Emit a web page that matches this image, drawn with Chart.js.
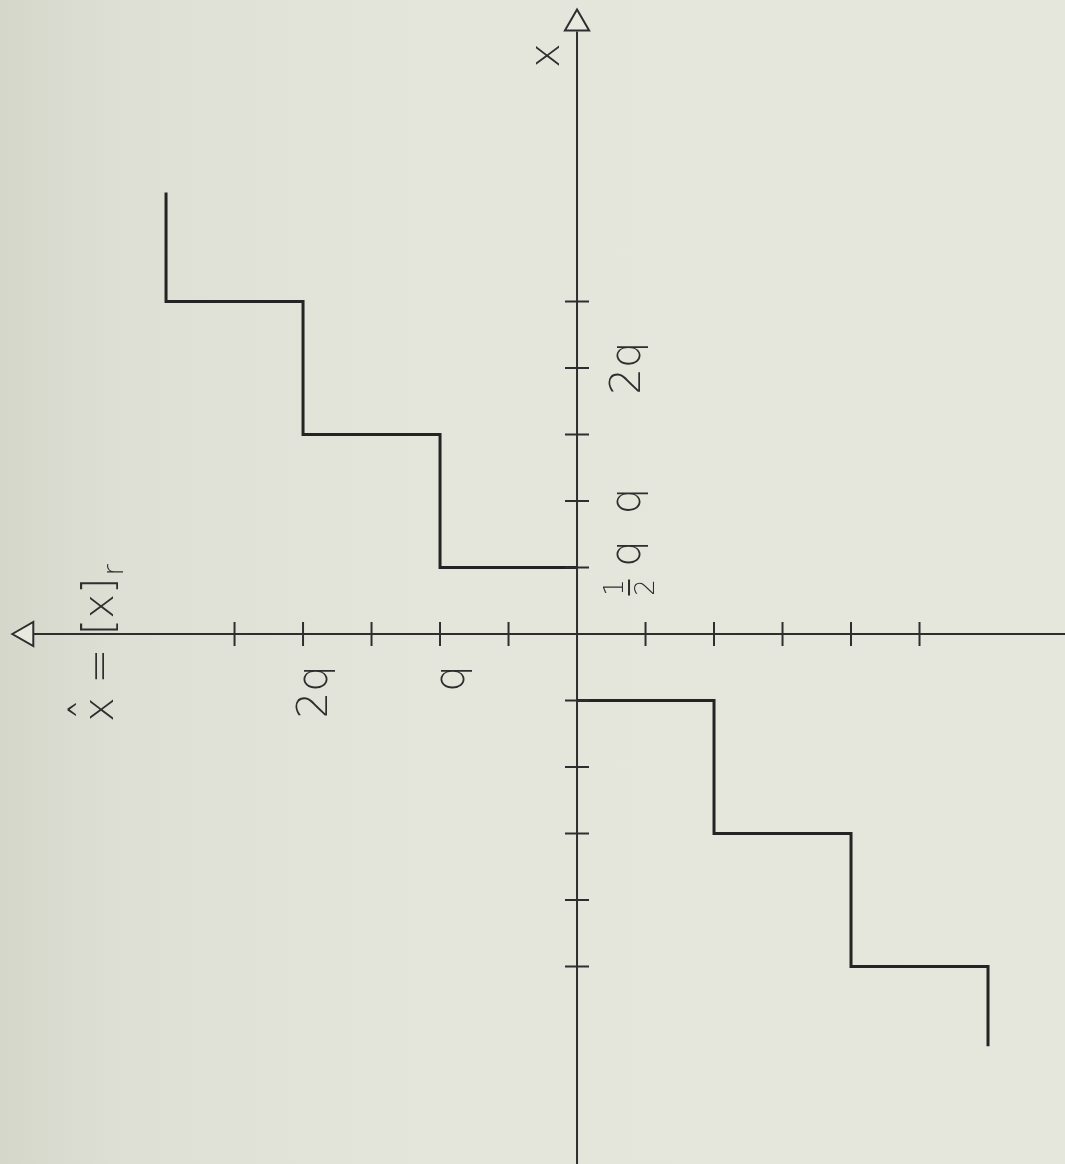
<!DOCTYPE html>
<html>
<head>
<meta charset="utf-8">
<title>Quantizer characteristic</title>
<script src="https://cdn.jsdelivr.net/npm/chart.js@4"></script>
<style>
    html, body {
        margin: 0;
        padding: 0;
        width: 1065px;
        height: 1164px;
        overflow: hidden;
        background: linear-gradient(to right, #d5d7cb 0%, #dfe0d5 12%, #e5e6db 40%, #e6e7dc 100%);
    }
    #quantChart {
        display: block;
    }
</style>
</head>
<body>
<canvas id="quantChart" width="1065" height="1164"></canvas>
<script>
// Quantizer levels (x^ in units of q) and the input thresholds where they switch
const posLevels = [1, 2, 3];
const posThresholds = [0.5, 1.5, 2.5];
const posEnd = 3.32;
const negLevels = [-1, -2, -3];
const negThresholds = [-0.5, -1.5, -2.5];
const negEnd = -3.1;

// Tick marks along each axis, in units of q
const inputTicks = [-2.5, -2, -1.5, -1, -0.5, 0.5, 1, 1.5, 2, 2.5];
const outputTicks = [-2.5, -2, -1.5, -1, -0.5, 0.5, 1, 1.5, 2, 2.5];

// Tick labels
const inputTickLabels = [
    { value: 0.5, text: 'half' },
    { value: 1, text: 'q' },
    { value: 2, text: '2q' },
];
const outputTickLabels = [
    { value: 1, text: 'q' },
    { value: 2, text: '2q' },
];

// Axis extents (output axis runs to the left, input axis upward)
const outputAxisEnd = 3.97;
const outputArrow = 4.02;
const inputAxisEnd = 4.53;
const inputArrow = 4.59;

const INK = '#2e2e2e';
const FONT = '200 42px "DejaVu Sans", sans-serif';

// build the staircase: each step is a jump at the threshold followed by a flat run
function staircase(levels, thresholds, end) {
    const pts = [{ x: 0, y: thresholds[0] }];
    levels.forEach((level, i) => {
        pts.push({ x: level, y: thresholds[i] });
        const next = i + 1 < thresholds.length ? thresholds[i + 1] : end;
        pts.push({ x: level, y: next });
    });
    return pts;
}

const axisLabels = {
    id: 'axisLabels',
    afterDatasetsDraw(chart) {
        const ctx = chart.ctx;
        const xs = chart.scales.x;
        const ys = chart.scales.y;
        const x0 = xs.getPixelForValue(0);
        const y0 = ys.getPixelForValue(0);

        ctx.save();
        ctx.fillStyle = INK;
        ctx.font = FONT;

        const rotated = (px, py, draw) => {
            ctx.save();
            ctx.translate(px, py);
            ctx.rotate(-Math.PI / 2);
            draw();
            ctx.restore();
        };

        // labels right of the input axis
        inputTickLabels.forEach(lbl => {
            const py = ys.getPixelForValue(lbl.value);
            rotated(x0 + 63, py, () => {
                ctx.textBaseline = 'alphabetic';
                ctx.textAlign = 'center';
                if (lbl.text === 'half') {
                    // stacked one-half in front of q
                    ctx.font = '200 26px "DejaVu Sans", sans-serif';
                    ctx.fillText('1', -20, -17);
                    ctx.fillText('2', -20, 14);
                    ctx.fillRect(-28, -12, 16, 2);
                    ctx.font = FONT;
                    ctx.fillText('q', 14, 0);
                } else {
                    ctx.fillText(lbl.text, 0, 0);
                }
            });
        });

        // labels below the output axis
        outputTickLabels.forEach(lbl => {
            const px = xs.getPixelForValue(lbl.value);
            rotated(px + 24, y0 + 31, () => {
                ctx.textAlign = 'right';
                ctx.textBaseline = 'alphabetic';
                ctx.fillText(lbl.text, 0, 0);
            });
        });

        // axis names
        rotated(x0 - 18, ys.getPixelForValue(4.35), () => {
            ctx.textAlign = 'center';
            ctx.fillText('x', 0, 0);
        });

        rotated(113, y0 + 88, () => {
            ctx.textAlign = 'left';
            ctx.textBaseline = 'alphabetic';
            const head = 'x';
            ctx.fillText(head, 0, 0);
            const w = ctx.measureText(head).width;
            ctx.font = '200 46px "DejaVu Sans", sans-serif';
            ctx.textAlign = 'center';
            ctx.fillText('\u02C6', w / 2, -8);
            ctx.font = FONT;
            ctx.textAlign = 'left';
            const rest = ' = [x]';
            ctx.fillText(rest, w, 0);
            const w2 = ctx.measureText(rest).width;
            ctx.font = '200 28px "DejaVu Sans", sans-serif';
            ctx.fillText('r', w + w2 + 2, 10);
        });

        ctx.restore();
    }
};

const upper = staircase(posLevels, posThresholds, posEnd);
const lower = staircase(negLevels, negThresholds, negEnd);

new Chart(document.getElementById('quantChart'), {
    type: 'scatter',
    data: {
        datasets: [
            {
                label: 'output axis',
                data: [{ x: outputAxisEnd, y: 0 }, { x: -4, y: 0 }],
                showLine: true,
                borderColor: INK,
                borderWidth: 2,
                pointRadius: 0,
            },
            {
                label: 'input axis',
                data: [{ x: 0, y: -4.2 }, { x: 0, y: inputAxisEnd }],
                showLine: true,
                borderColor: INK,
                borderWidth: 2,
                pointRadius: 0,
            },
            {
                label: 'input ticks',
                data: inputTicks.map(v => ({ x: 0, y: v })),
                showLine: false,
                pointStyle: 'line',
                pointRadius: 12,
                borderColor: INK,
                borderWidth: 2,
            },
            {
                label: 'output ticks',
                data: outputTicks.map(v => ({ x: v, y: 0 })),
                showLine: false,
                pointStyle: 'line',
                pointRotation: 90,
                pointRadius: 12,
                borderColor: INK,
                borderWidth: 2,
            },
            {
                label: 'arrows',
                data: [{ x: 0, y: inputArrow }, { x: outputArrow, y: 0 }],
                showLine: false,
                pointStyle: 'triangle',
                pointRotation: [0, -90],
                pointRadius: 14,
                borderColor: INK,
                borderWidth: 2,
                backgroundColor: '#e8e9df',
            },
            {
                label: 'positive steps',
                data: upper,
                showLine: true,
                borderColor: '#242424',
                borderWidth: 3,
                pointRadius: 0,
            },
            {
                label: 'negative steps',
                data: lower,
                showLine: true,
                borderColor: '#242424',
                borderWidth: 3,
                pointRadius: 0,
            },
        ],
    },
    options: {
        responsive: false,
        animation: false,
        events: [],
        layout: { padding: 0, autoPadding: false },
        plugins: {
            legend: { display: false },
            tooltip: { enabled: false },
        },
        scales: {
            x: {
                type: 'linear',
                reverse: true,
                min: -3.562,
                max: 4.212,
                display: false,
            },
            y: {
                type: 'linear',
                min: -3.985,
                max: 4.767,
                display: false,
            },
        },
    },
    plugins: [axisLabels],
});
</script>
</body>
</html>
